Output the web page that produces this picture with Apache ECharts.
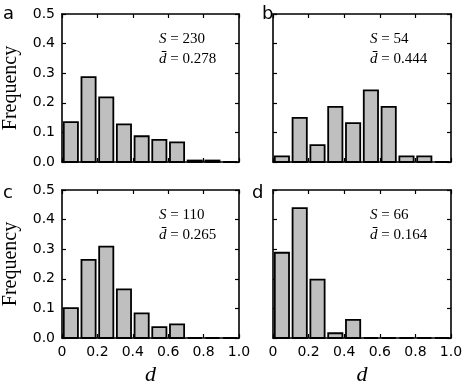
<!DOCTYPE html>
<html>
<head>
<meta charset="utf-8">
<script src="https://cdn.jsdelivr.net/npm/echarts@6/dist/echarts.min.js"></script>
<style>
  html, body { margin: 0; padding: 0; background: #fff; }
  #chart { width: 469px; height: 385px; }
</style>
</head>
<body>
<div id="chart"></div>
<script>
// --- datos ---
const binStart = [0, 0.1, 0.2, 0.3, 0.4, 0.5, 0.6, 0.7, 0.8, 0.9];

const freqA = [0.135, 0.287, 0.218, 0.127, 0.087, 0.075, 0.066, 0.005, 0.005, 0];
const freqB = [0.019, 0.149, 0.057, 0.186, 0.131, 0.242, 0.186, 0.019, 0.019, 0];
const freqC = [0.101, 0.264, 0.309, 0.164, 0.083, 0.037, 0.046, 0, 0, 0];
const freqD = [0.288, 0.439, 0.197, 0.016, 0.061, 0, 0, 0, 0, 0];

const panelLetters = ['a', 'b', 'c', 'd'];
const panelS = [230, 54, 110, 66];
const panelDbar = ['0.278', '0.444', '0.265', '0.164'];

// --- layout ---
const grids = [
    { left: 62, top: 14, width: 177, height: 148 },
    { left: 273, top: 14, width: 178, height: 148 },
    { left: 62, top: 190, width: 177, height: 148 },
    { left: 273, top: 190, width: 178, height: 148 }
].map(g => Object.assign(g, { outerBoundsMode: 'none', containLabel: false }));
const letterPos = [[3, 5], [262, 5], [3, 184], [252, 184]];

const allFreq = [freqA, freqB, freqC, freqD];
const sansFont = 'DejaVu Sans';
const serifFont = 'Liberation Serif';

const xAxes = [];
const yAxes = [];
const series = [];
const titles = [];

grids.forEach((g, i) => {
    const isLeft = (i % 2 === 0);
    const isBottom = (i >= 2);
    const lineStyle = { color: '#000', width: 1.6 };
    const tickStyle = { color: '#000', width: 1.2 };

    // eje x abajo
    xAxes.push({
        gridIndex: i, type: 'value', min: 0, max: 1, interval: 0.2,
        position: 'bottom',
        axisLine: { show: true, onZero: false, lineStyle },
        axisTick: { show: true, inside: true, length: 4, lineStyle: tickStyle },
        splitLine: { show: false },
        axisLabel: {
            show: isBottom, color: '#000', fontFamily: sansFont, fontSize: 14, margin: 7,
            formatter: v => (v === 0 ? '0' : v.toFixed(1))
        },
        name: isBottom ? 'd' : '', nameLocation: 'middle', nameGap: 26,
        nameTextStyle: { fontFamily: serifFont, fontStyle: 'italic', fontSize: 22, color: '#000' }
    });
    // eje x arriba
    xAxes.push({
        gridIndex: i, type: 'value', min: 0, max: 1, interval: 0.2,
        position: 'top',
        axisLine: { show: true, onZero: false, lineStyle },
        axisTick: { show: true, inside: true, length: 4, lineStyle: tickStyle },
        splitLine: { show: false },
        axisLabel: { show: false }
    });
    // eje y izquierda
    yAxes.push({
        gridIndex: i, type: 'value', min: 0, max: 0.5, interval: 0.1,
        position: 'left',
        axisLine: { show: true, onZero: false, lineStyle },
        axisTick: { show: true, inside: true, length: 4, lineStyle: tickStyle },
        splitLine: { show: false },
        axisLabel: {
            show: isLeft, color: '#000', fontFamily: sansFont, fontSize: 14, margin: 7,
            formatter: v => v.toFixed(1)
        },
        name: isLeft ? 'Frequency' : '', nameLocation: 'middle', nameGap: 41,
        nameTextStyle: { fontFamily: serifFont, fontSize: 20, color: '#000' }
    });
    // eje y derecha
    yAxes.push({
        gridIndex: i, type: 'value', min: 0, max: 0.5, interval: 0.1,
        position: 'right',
        axisLine: { show: true, onZero: false, lineStyle },
        axisTick: { show: true, inside: true, length: 4, lineStyle: tickStyle },
        splitLine: { show: false },
        axisLabel: { show: false }
    });

    series.push({
        type: 'custom',
        xAxisIndex: i * 2,
        yAxisIndex: i * 2,
        data: binStart.map((b, k) => [b, allFreq[i][k]]),
        renderItem: function (params, api) {
            const x0 = api.value(0);
            const top = api.coord([x0 + 0.01, api.value(1)]);
            const base = api.coord([x0 + 0.09, 0]);
            return {
                type: 'rect',
                shape: { x: top[0], y: top[1], width: base[0] - top[0], height: base[1] - top[1] },
                style: { fill: '#bfbfbf', stroke: '#000', lineWidth: 1.8 }
            };
        },
        z: 1
    });

    titles.push({
        text: panelLetters[i],
        left: letterPos[i][0], top: letterPos[i][1], padding: 0,
        textStyle: { fontFamily: sansFont, fontSize: 18, fontWeight: 'normal', color: '#000' }
    });
    titles.push({
        text: '{i|S} = ' + panelS[i] + '\n{i|d\u0304} = ' + panelDbar[i],
        left: g.left + 97, top: g.top + 15, padding: 0,
        textStyle: {
            fontFamily: serifFont, fontSize: 15, fontWeight: 'normal', color: '#000', lineHeight: 20,
            rich: {
                i: { fontFamily: serifFont, fontStyle: 'italic', fontSize: 15, color: '#000', lineHeight: 20 }
            }
        }
    });
});

const chart = echarts.init(document.getElementById('chart'), null, { renderer: 'canvas' });
chart.setOption({
    animation: false,
    backgroundColor: '#fff',
    title: titles,
    grid: grids,
    xAxis: xAxes,
    yAxis: yAxes,
    series: series
});
</script>
</body>
</html>
